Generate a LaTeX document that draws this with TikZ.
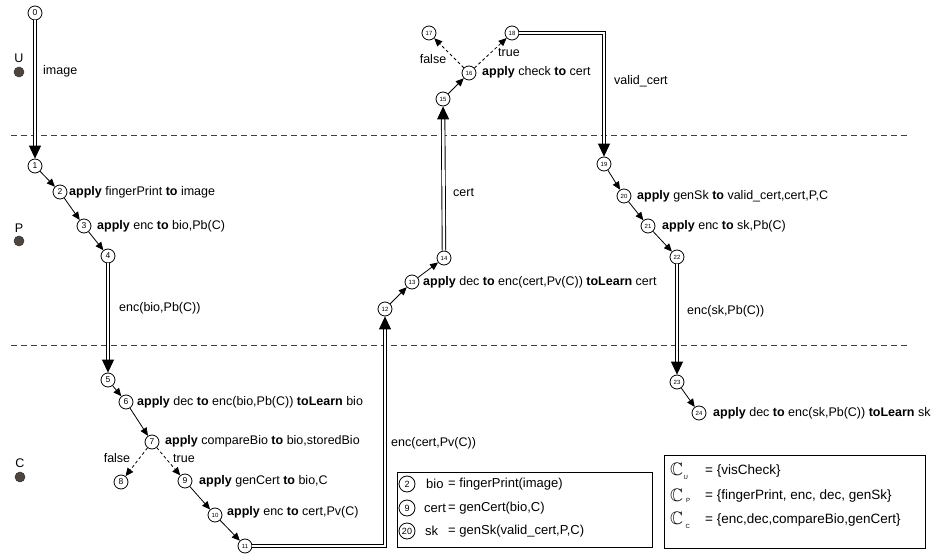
\documentclass[tikz,border=0pt]{standalone}
\usepackage{amssymb}
\usepackage{fontspec}
\setmainfont{Liberation Sans}
\usetikzlibrary{arrows.meta}
\definecolor{dotc}{HTML}{4D4540}
\begin{document}
\begin{tikzpicture}[x=1pt,y=-1pt,
  st/.style={circle,draw,line width=0.8pt,minimum size=14pt,inner sep=0pt,font=\fontsize{8.5}{8.5}\selectfont},
  sts/.style={st,font=\fontsize{6}{6}\selectfont},
  lbl/.style={anchor=west,inner sep=0pt,font=\fontsize{12.5}{14}\selectfont},
  arr/.style={-{Triangle[length=8pt,width=7pt]},line width=0.8pt},
  darr/.style={arr,dash pattern=on 3pt off 2.5pt},
  msg/.style={line width=0.9pt,double=white,double distance=2.6pt,line join=miter,-{Triangle[length=13pt,width=12pt]}},
  laneline/.style={line width=0.8pt,dash pattern=on 6pt off 4pt,draw=black!75},
  role/.style={circle,fill=dotc,draw=black!80,line width=0.5pt,minimum size=10pt,inner sep=0pt},
  rolelbl/.style={inner sep=0pt,font=\fontsize{12.5}{14}\selectfont},
  legbox/.style={draw,line width=0.8pt,inner sep=0pt},
  lst/.style={circle,draw,line width=0.8pt,minimum size=16pt,inner sep=0pt,font=\fontsize{9}{9}\selectfont},
  legtxt/.style={anchor=west,inner sep=0pt,font=\fontsize{13}{15}\selectfont},
  settxt/.style={anchor=west,inner sep=0pt,font=\fontsize{13.5}{15}\selectfont}
]
\useasboundingbox (0,0) rectangle (935,556);

% lane separators
\coordinate (l1a) at (11,135); \coordinate (l1b) at (908,135);
\coordinate (l2a) at (11,345); \coordinate (l2b) at (908,345);
\draw[laneline] (l1a) -- (l1b);
\draw[laneline] (l2a) -- (l2b);

% roles
\node[rolelbl] (U) at (19,58) {U};
\node[role] (Ud) at (19,72) {};
\node[rolelbl] (P) at (19,228) {P};
\node[role] (Pd) at (19,241) {};
\node[rolelbl] (C) at (20,463) {C};
\node[role] (Cd) at (20,477) {};

% states
\node[st] (n0) at (35,13) {0};
\node[st] (n1) at (35,166) {1};
\node[st] (n2) at (60,192) {2};
\node[st] (n3) at (84,226) {3};
\node[st] (n4) at (108,256) {4};
\node[st] (n5) at (108,380) {5};
\node[st] (n6) at (126,402) {6};
\node[st] (n7) at (152,442) {7};
\node[st] (n8) at (121,482) {8};
\node[st] (n9) at (185,481) {9};
\node[sts] (n10) at (215,515) {10};
\node[sts] (n11) at (245,546) {11};
\node[sts] (n12) at (385,309) {12};
\node[sts] (n13) at (412,282) {13};
\node[sts] (n14) at (444,258) {14};
\node[sts] (n15) at (443,99) {15};
\node[sts] (n16) at (469,73) {16};
\node[sts] (n17) at (429,33) {17};
\node[sts] (n18) at (512,33) {18};
\node[sts] (n19) at (604,164) {19};
\node[sts] (n20) at (624,196) {20};
\node[sts] (n21) at (648,226) {21};
\node[sts] (n22) at (677,257) {22};
\node[sts] (n23) at (677,382) {23};
\node[sts] (n24) at (699,413) {24};

% corners
\coordinate (k1) at (385,546);
\coordinate (k2) at (604,33);

% messages
\draw[msg] (n0) -- (n1);
\draw[msg] (n4) -- (n5);
\draw[msg] (n11) -- (k1) -- (n12);
\draw[msg] (n14) -- (n15);
\draw[msg] (n18) -- (k2) -- (n19);
\draw[msg] (n22) -- (n23);

% local steps
\draw[arr] (n1) -- (n2);
\draw[arr] (n2) -- (n3);
\draw[arr] (n3) -- (n4);
\draw[arr] (n5) -- (n6);
\draw[arr] (n6) -- (n7);
\draw[darr] (n7) -- (n8);
\draw[darr] (n7) -- (n9);
\draw[arr] (n9) -- (n10);
\draw[arr] (n10) -- (n11);
\draw[arr] (n12) -- (n13);
\draw[arr] (n13) -- (n14);
\draw[arr] (n15) -- (n16);
\draw[darr] (n16) -- (n17);
\draw[darr] (n16) -- (n18);
\draw[arr] (n19) -- (n20);
\draw[arr] (n20) -- (n21);
\draw[arr] (n21) -- (n22);
\draw[arr] (n23) -- (n24);

% message labels
\node[lbl] (m1) at (43,71) {image};
\node[lbl] (m2) at (119,308) {enc(bio,Pb(C))};
\node[lbl] (m3) at (391,443) {enc(cert,Pv(C))};
\node[lbl] (m4) at (453,193) {cert};
\node[lbl] (m5) at (614,81) {valid\_cert};
\node[lbl] (m6) at (687,311) {enc(sk,Pb(C))};

% step labels
\node[lbl] (a2) at (69,192) {\textbf{apply} fingerPrint \textbf{to} image};
\node[lbl] (a3) at (97,226) {\textbf{apply} enc \textbf{to} bio,Pb(C)};
\node[lbl] (a6) at (137,402) {\textbf{apply} dec \textbf{to} enc(bio,Pb(C)) \textbf{toLearn} bio};
\node[lbl] (a7) at (165,441) {\textbf{apply} compareBio \textbf{to} bio,storedBio};
\node[lbl] (a9) at (199,481) {\textbf{apply} genCert \textbf{to} bio,C};
\node[lbl] (a10) at (227,512) {\textbf{apply} enc \textbf{to} cert,Pv(C)};
\node[lbl] (a13) at (423,282) {\textbf{apply} dec \textbf{to} enc(cert,Pv(C)) \textbf{toLearn} cert};
\node[lbl] (a16) at (482,72) {\textbf{apply} check \textbf{to} cert};
\node[lbl] (a20) at (637,196) {\textbf{apply} genSk \textbf{to} valid\_cert,cert,P,C};
\node[lbl] (a21) at (662,226) {\textbf{apply} enc \textbf{to} sk,Pb(C)};
\node[lbl] (a24) at (713,413) {\textbf{apply} dec \textbf{to} enc(sk,Pb(C)) \textbf{toLearn} sk};

% branch labels
\node[rolelbl] (f1) at (117,458) {false};
\node[rolelbl] (t1) at (184,459) {true};
\node[rolelbl] (f2) at (433,59) {false};
\node[rolelbl] (t2) at (509,53) {true};

% legend 1
\node[legbox,minimum width=255pt,minimum height=75pt] (legA) at (524.5,509.5) {};
\node[lst] (g2) at (407,484) {2};
\node[lst] (g9) at (407,508) {9};
\node[lst] (g20) at (407,531) {20};
\node[legtxt] (b1) at (426,484) {bio};
\node[legtxt] (b2) at (424,508) {cert};
\node[legtxt] (b3) at (425,531) {sk};
\node[legtxt] (e1) at (448,484) {= fingerPrint(image)};
\node[legtxt] (e2) at (448,508) {= genCert(bio,C)};
\node[legtxt] (e3) at (448,531) {= genSk(valid\_cert,P,C)};

% legend 2
\node[legbox,minimum width=261pt,minimum height=93pt] (legB) at (794.5,501.5) {};
\node[anchor=west,inner sep=0pt] (cU) at (670,471) {\scalebox{1.8}{$\mathbb{C}$}\kern0.5pt\raisebox{-4pt}{\fontsize{6}{6}\selectfont U}};
\node[anchor=west,inner sep=0pt] (cP) at (670,496) {\scalebox{1.8}{$\mathbb{C}$}\kern3pt\raisebox{-1pt}{\fontsize{6}{6}\selectfont P}};
\node[anchor=west,inner sep=0pt] (cC) at (670,520) {\scalebox{1.8}{$\mathbb{C}$}\kern2.5pt\raisebox{-4pt}{\fontsize{6}{6}\selectfont C}};
\node[settxt] (s1) at (705,471) {= \{visCheck\}};
\node[settxt] (s2) at (705,496) {= \{fingerPrint, enc, dec, genSk\}};
\node[settxt] (s3) at (705,520) {= \{enc,dec,compareBio,genCert\}};
\end{tikzpicture}
\end{document}
